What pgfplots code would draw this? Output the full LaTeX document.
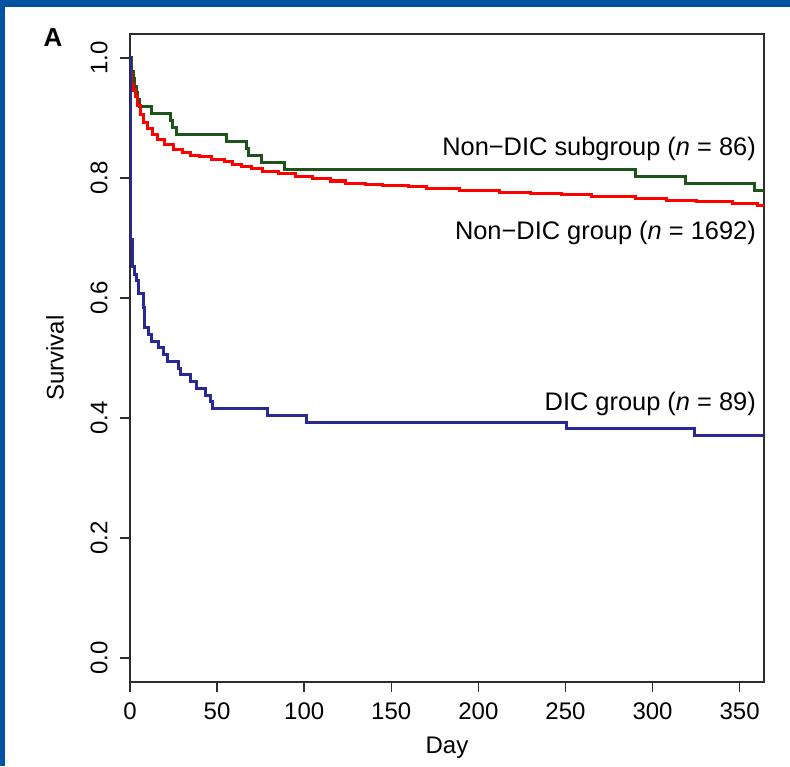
\documentclass[border=0pt]{standalone}
\usepackage{fontspec}
\setmainfont{Liberation Sans}
\usepackage{pgfplots}
\pgfplotsset{compat=1.18}
\definecolor{slideblue}{RGB}{0,82,162}
\definecolor{kmgreen}{RGB}{28,84,28}
\definecolor{kmred}{RGB}{255,0,0}
\definecolor{kmblue}{RGB}{40,40,150}
\definecolor{axisgray}{RGB}{45,45,45}

% DIC group (n = 89)
\pgfplotstableread{
day surv
0 1.000
0.3 0.697
1.5 0.652
2.5 0.640
4.0 0.629
4.8 0.607
7.6 0.584
8.4 0.551
10.7 0.539
12.6 0.528
16.4 0.517
19.3 0.506
21.8 0.494
27.9 0.483
28.9 0.472
34.6 0.461
38.4 0.449
43.2 0.438
46.0 0.427
47.5 0.416
79.0 0.404
101.3 0.393
250.4 0.382
324.0 0.371
365 0.371
}\dicgroup

% Non-DIC subgroup (n = 86)
\pgfplotstableread{
day surv
0 1.000
0.7 0.988
1.0 0.977
2.0 0.965
2.5 0.953
4.0 0.942
4.5 0.930
5.7 0.919
12.3 0.907
23.3 0.895
24.5 0.884
26.5 0.872
55.4 0.860
66.9 0.849
68.0 0.837
75.5 0.826
88.5 0.814
290.5 0.802
319.2 0.791
358.4 0.779
365 0.779
}\nondicsub

% Non-DIC group (n = 1692)
\pgfplotstableread{
day surv
0 1.000
0.3 0.975
1 0.955
2 0.945
3 0.935
4.5 0.920
6 0.905
8 0.893
10 0.882
13 0.872
16 0.864
20 0.856
25 0.847
30 0.842
35 0.838
40 0.835
47 0.831
54 0.827
59 0.823
64 0.819
70 0.815
76 0.811
85 0.807
95 0.803
105 0.799
115 0.795
124 0.791
135 0.789
145 0.787
160 0.786
170 0.783
189 0.779
212 0.776
230 0.774
248 0.772
265 0.769
290 0.766
308 0.763
325 0.761
346 0.758
360 0.755
365 0.755
}\nondicgroup

\begin{document}
\begin{tikzpicture}
\fill[slideblue] (0,0) rectangle (395pt,383pt);
\fill[white] (2.5pt,0) rectangle (395pt,379.5pt);
\node[font=\fontsize{13}{15}\selectfont\bfseries] at (26.5pt,364pt) {A};
\begin{axis}[
    at={(65pt,42pt)}, anchor=south west,
    scale only axis,
    width=317pt, height=324pt,
    xmin=0, xmax=364,
    ymin=-0.04, ymax=1.04,
    xtick={0,50,...,350},
    ytick={0,0.2,0.4,0.6,0.8,1.0},
    tick pos=left,
    tick align=outside,
    major tick length=5pt,
    every tick/.style={axisgray, line width=0.75pt},
    axis line style={axisgray, line width=0.75pt},
    yticklabel style={/pgf/number format/.cd, fixed, fixed zerofill, precision=1, /tikz/.cd, rotate=90, anchor=south, inner sep=0pt},
    yticklabel shift=6pt,
    xticklabel shift=2pt,
    /pgf/number format/assume math mode=true,
    tick label style={font=\fontsize{12}{14}\selectfont},
    label style={font=\fontsize{12}{14}\selectfont},
    xlabel={Day},
    ylabel={Survival},
    xlabel style={at={(axis description cs:0.5,0)}, anchor=center, yshift=-33pt},
    ylabel style={at={(axis description cs:0,0.5)}, anchor=center, rotate=0, yshift=37.5pt},
    clip=true,
]
\addplot[const plot, kmgreen, line width=1.5pt] table[x=day, y=surv] {\nondicsub};
\addplot[const plot, kmred, line width=1.5pt] table[x=day, y=surv] {\nondicgroup};
\addplot[const plot, kmblue, line width=1.5pt] table[x=day, y=surv] {\dicgroup};
\node[anchor=east, inner sep=0pt, font=\fontsize{12.7}{14}\selectfont] at (axis cs:359.5,0.848) {Non−DIC subgroup (\textit{n} = 86)};
\node[anchor=east, inner sep=0pt, font=\fontsize{12.7}{14}\selectfont] at (axis cs:359.5,0.709) {Non−DIC group (\textit{n} = 1692)};
\node[anchor=east, inner sep=0pt, font=\fontsize{12.7}{14}\selectfont] at (axis cs:359.5,0.424) {DIC group (\textit{n} = 89)};
\end{axis}
\end{tikzpicture}
\end{document}
